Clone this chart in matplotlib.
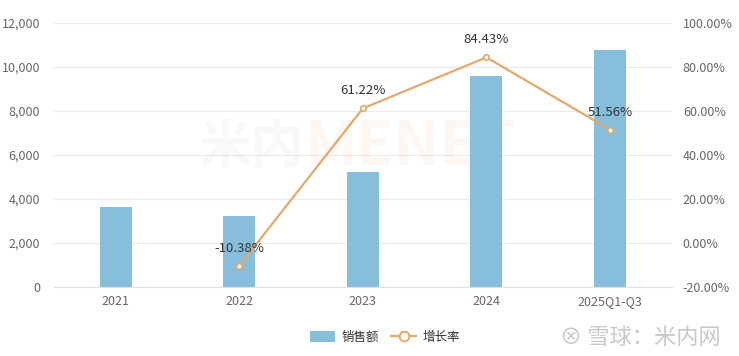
import matplotlib

matplotlib.use("Agg")
import matplotlib.pyplot as plt
from matplotlib.lines import Line2D
from matplotlib.patches import Patch
from matplotlib.ticker import FuncFormatter

plt.rcParams["font.family"] = ["Noto Sans CJK SC", "DejaVu Sans"]

categories = ["2021", "2022", "2023", "2024", "2025Q1-Q3"]
sales = [3620, 3220, 5210, 9600, 10780]
growth_idx = [1, 2, 3, 4]
growth = [-10.38, 61.22, 84.43, 51.56]

BAR_COLOR = "#86bedc"
LINE_COLOR = "#e3a96c"
TICK_COLOR = "#666666"
GRID_COLOR = "#ebebeb"

fig = plt.figure(figsize=(7.39, 3.56), dpi=100)
ax = fig.add_axes([0.073, 0.194, 0.836, 0.741])
ax2 = ax.twinx()

x = list(range(len(categories)))
ax.bar(x, sales, width=0.26, color=BAR_COLOR, zorder=2)
ax.set_xlim(-0.5, len(categories) - 0.5)
ax.set_ylim(0, 12000)
ax.set_yticks(range(0, 12001, 2000))
ax.yaxis.set_major_formatter(FuncFormatter(lambda v, p: f"{int(v):,}"))
ax.set_xticks(x)
ax.set_xticklabels(categories)
ax.grid(axis="y", color=GRID_COLOR, linewidth=0.8, zorder=0)
ax.set_axisbelow(True)

ax2.plot(growth_idx, growth, color=LINE_COLOR, linewidth=1.6, marker="o",
         markersize=4, markerfacecolor="white", markeredgecolor=LINE_COLOR,
         markeredgewidth=1.2, zorder=3)
ax2.set_ylim(-20, 100)
ax2.set_yticks(range(-20, 101, 20))
ax2.yaxis.set_major_formatter(FuncFormatter(lambda v, p: f"{v:.2f}%"))
for xi, g in zip(growth_idx, growth):
    ax2.annotate(f"{g:.2f}%", (xi, g), xytext=(0, 8), textcoords="offset points",
                 ha="center", va="bottom", fontsize=9.5, color="#333333")

for a in (ax, ax2):
    for s in a.spines.values():
        s.set_visible(False)
    a.tick_params(length=0, colors=TICK_COLOR, labelsize=9)
ax.spines["bottom"].set_visible(True)
ax.spines["bottom"].set_color("#e0e0e0")
ax.tick_params(axis="y", pad=10)
ax.tick_params(axis="x", pad=6)
ax2.tick_params(axis="y", pad=8)

# faint centre watermark
ax.text(0.405, 0.53, "米内", transform=ax.transAxes, fontsize=38, fontweight="bold",
        color="#b8c8d0", alpha=0.12, ha="right", va="center", zorder=1)
ax.text(0.405, 0.53, "MENET", transform=ax.transAxes, fontsize=44, fontweight="bold",
        color="#f3b07a", alpha=0.09, ha="left", va="center", zorder=1)

handles = [
    Patch(facecolor=BAR_COLOR, edgecolor="none", label="销售额"),
    Line2D([0], [0], color=LINE_COLOR, linewidth=1.6, marker="o", markersize=7,
           markerfacecolor="white", markeredgecolor=LINE_COLOR, markeredgewidth=1.4,
           label="增长率"),
]
fig.legend(handles=handles, loc="center", bbox_to_anchor=(385 / 739, 1 - 337 / 356),
           ncol=2, frameon=False, fontsize=9, handlelength=2.0, handleheight=1.0,
           columnspacing=1.0, handletextpad=0.5, labelcolor="#333333")

fig.text(0.975, 1 - 337 / 356, "⊗ 雪球：米内网", ha="right", va="center",
         fontsize=16, color="#c8c8c8")

fig.savefig("out.png", dpi=100)
